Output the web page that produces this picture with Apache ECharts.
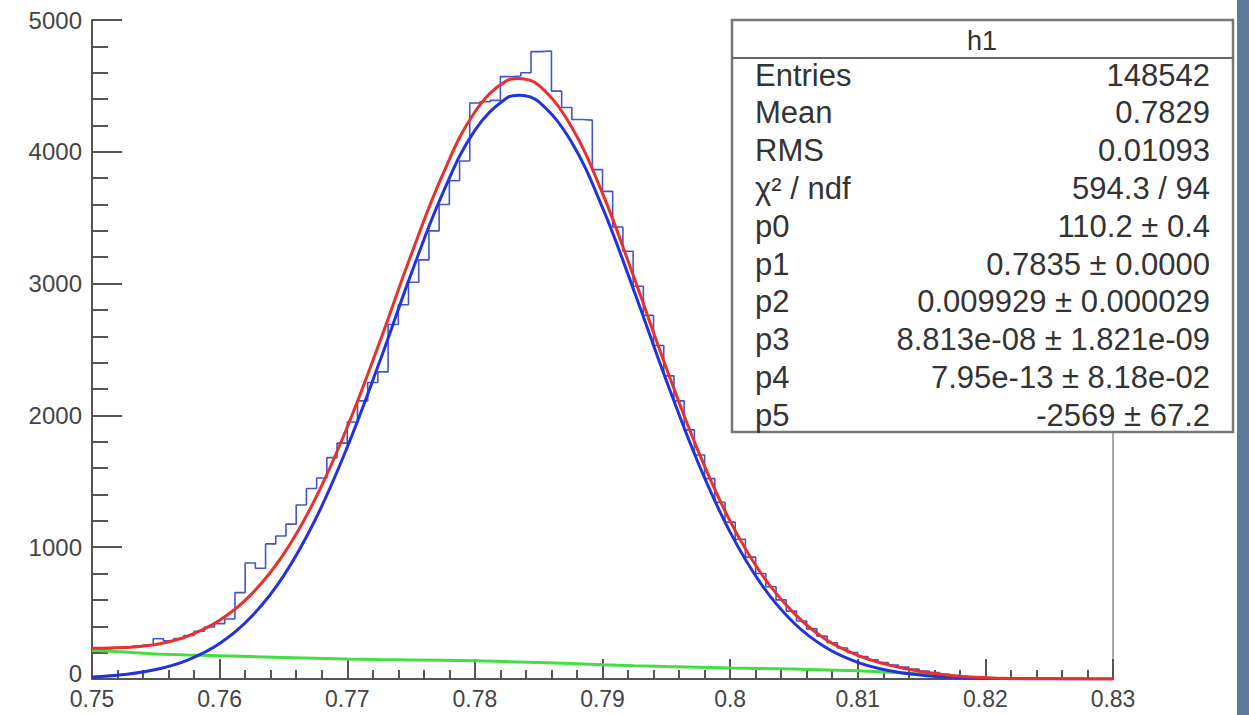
<!DOCTYPE html>
<html><head><meta charset="utf-8">
<script src="https://cdn.jsdelivr.net/npm/echarts@6/dist/echarts.min.js"></script>
<style>html,body{margin:0;padding:0;background:#fff;}#chart{width:1249px;height:715px;}</style>
</head><body><div id="chart"></div>
<script>
// ---- data ----
const histRange = [0.75, 0.83];
const histCounts = [
  228, 230, 238, 244, 250, 258, 305, 290, 306, 330,
  362, 395, 420, 455, 655, 880, 840, 1025, 1085, 1175,
  1320, 1445, 1525, 1680, 1790, 1950, 2110, 2250, 2330, 2690,
  2840, 3010, 3180, 3400, 3600, 3780, 3930, 4370, 4380, 4390,
  4570, 4575, 4600, 4760, 4765, 4460, 4336, 4245, 4240, 3865,
  3700, 3430, 3245, 2980, 2760, 2530, 2300, 2110, 1890, 1700,
  1520, 1340, 1190, 1060, 925, 800, 700, 600, 515, 440,
  380, 325, 275, 235, 200, 170, 145, 125, 105, 90,
  75, 60, 48, 36, 26, 18, 12, 8, 6, 4,
  3, 2, 2, 1, 1, 1, 0, 0, 0, 0
];
const gausX = [0.75, 0.7525, 0.755, 0.7575, 0.76, 0.7625, 0.765, 0.7675, 0.77, 0.7725, 0.775, 0.7775, 0.78, 0.7825, 0.7835, 0.785, 0.7875, 0.79, 0.7925, 0.795, 0.7975, 0.80, 0.8025, 0.805, 0.8075, 0.81, 0.8125, 0.815, 0.8175, 0.82, 0.8225, 0.825, 0.8275, 0.83];
const gausY = [15, 34, 72, 144, 269, 474, 781, 1210, 1759, 2397, 3072, 3690, 4163, 4408, 4430, 4380, 4085, 3576, 2937, 2265, 1639, 1114, 711, 425, 239, 126, 62, 29, 13, 5, 2, 1, 0, 0];
const fitX = [0.75, 0.7525, 0.755, 0.7575, 0.76, 0.7625, 0.765, 0.7675, 0.77, 0.7725, 0.775, 0.7775, 0.78, 0.7825, 0.7834, 0.785, 0.7875, 0.79, 0.7925, 0.795, 0.7975, 0.80, 0.8025, 0.805, 0.8075, 0.81, 0.8125, 0.815, 0.8175, 0.82, 0.8225, 0.825, 0.8275, 0.83];
const fitY = [233, 239, 262, 326, 445, 644, 945, 1368, 1911, 2545, 3217, 3832, 4302, 4540, 4556, 4505, 4202, 3684, 3038, 2360, 1729, 1198, 791, 500, 300, 180, 105, 55, 25, 10, 4, 2, 1, 0];
const bkgX = [0.75, 0.7525, 0.755, 0.7575, 0.76, 0.7625, 0.765, 0.7675, 0.77, 0.7725, 0.775, 0.7775, 0.78, 0.7825, 0.785, 0.7875, 0.79, 0.7925, 0.795, 0.7975, 0.80, 0.8025, 0.805, 0.8075, 0.81, 0.8125, 0.815, 0.8175];
const bkgY = [218, 205, 190, 182, 176, 170, 164, 158, 152, 148, 145, 142, 139, 132, 125, 117, 108, 101, 95, 90, 84, 80, 75, 69, 62, 52, 38, 15];
const xTicks = {min: 0.75, max: 0.83, step: 0.01};
const yTicks = {min: 0, max: 5000, step: 1000};
const statsTitle = 'h1';
const statsLabels = ['Entries', 'Mean', 'RMS', 'χ² / ndf', 'p0', 'p1', 'p2', 'p3', 'p4', 'p5'];
const statsValues = ['148542', '0.7829', '0.01093', '594.3 / 94', '110.2 ± 0.4', '0.7835 ± 0.0000', '0.009929 ± 0.000029', '8.813e-08 ± 1.821e-09', '7.95e-13 ± 8.18e-02', '-2569 ± 67.2'];

// ---- build ----
const nb = histCounts.length;
const bw = (histRange[1] - histRange[0]) / nb;
const histPts = histCounts.map((c, i) => [histRange[0] + i * bw, c]);
histPts.push([histRange[1], histCounts[nb - 1]]);
const zip = (xs, ys) => xs.map((x, i) => [x, ys[i]]);

const FONT = '"Liberation Sans", Arial, Helvetica, sans-serif';
const rowTop = 55, rowStep = 37.8;
const ZB = 100;
const statsChildren = [
  {type: 'rect', z: ZB, shape: {x: 0, y: 0, width: 501, height: 412}, style: {fill: '#fff', stroke: '#777', lineWidth: 2.5}},
  {type: 'line', z: ZB + 1, shape: {x1: 0, y1: 38, x2: 501, y2: 38}, style: {stroke: '#666', lineWidth: 2}},
  {type: 'text', z: ZB + 1, x: 250, y: 21, style: {text: statsTitle, font: '27px ' + FONT, fill: '#333', align: 'center', verticalAlign: 'middle'}}
];
statsLabels.forEach((l, k) => {
  statsChildren.push({type: 'text', z: ZB + 1, x: 23, y: rowTop + rowStep * k, style: {text: l, font: '31px ' + FONT, fill: '#333', align: 'left', verticalAlign: 'middle'}});
  statsChildren.push({type: 'text', z: ZB + 1, x: 478, y: rowTop + rowStep * k, style: {text: statsValues[k], font: '31px ' + FONT, fill: '#333', align: 'right', verticalAlign: 'middle'}});
});

const chart = echarts.init(document.getElementById('chart'), null, {renderer: 'svg'});
const axisLineStyle = {color: '#555', width: 2};
chart.setOption({
  animation: false,
  backgroundColor: '#fff',
  grid: {left: 92, right: 136, top: 20, bottom: 36},
  xAxis: [{
    type: 'value', min: xTicks.min, max: xTicks.max, interval: xTicks.step,
    axisLine: {show: true, onZero: false, lineStyle: axisLineStyle},
    axisTick: {show: true, inside: true, length: 20, lineStyle: {color: '#555', width: 2}},
    minorTick: {show: true, splitNumber: 5, length: 9, lineStyle: {color: '#555', width: 2}},
    axisLabel: {color: '#444', fontSize: 23, lineHeight: 18, fontFamily: FONT, margin: 11, showMinLabel: true, showMaxLabel: true,
                formatter: v => String(+v.toFixed(4))},
    splitLine: {show: false}
  }, {
    type: 'value', position: 'top', min: xTicks.min, max: xTicks.max,
    axisLine: {show: true, lineStyle: axisLineStyle},
    axisTick: {show: false}, axisLabel: {show: false}, splitLine: {show: false}
  }],
  yAxis: [{
    type: 'value', min: yTicks.min, max: yTicks.max, interval: yTicks.step,
    axisLine: {show: true, onZero: false, lineStyle: axisLineStyle},
    axisTick: {show: true, inside: true, length: 30, lineStyle: {color: '#555', width: 2}},
    minorTick: {show: true, splitNumber: 5, length: 16, lineStyle: {color: '#555', width: 2}},
    axisLabel: {color: '#444', fontSize: 24, lineHeight: 16, fontFamily: FONT, margin: 10,
                formatter: v => (v === 0 ? '{z|0}' : String(v)),
                rich: {z: {fontSize: 24, lineHeight: 16, fontFamily: FONT, color: '#444', padding: [0, 0, 12, 0]}}},
    splitLine: {show: false}
  }, {
    type: 'value', position: 'right', min: yTicks.min, max: yTicks.max,
    axisLine: {show: true, lineStyle: {color: '#aaa', width: 2}},
    axisTick: {show: false}, axisLabel: {show: false}, splitLine: {show: false}
  }],
  series: [
    {type: 'line', name: 'hist', data: histPts, step: 'end', symbol: 'none', z: 2,
     lineStyle: {color: '#4455c8', width: 1.6}},
    {type: 'line', name: 'bkg', data: zip(bkgX, bkgY), symbol: 'none', z: 3,
     lineStyle: {color: '#44dd44', width: 3}},
    {type: 'line', name: 'gaus', data: zip(gausX, gausY), smooth: 0.4, symbol: 'none', z: 4,
     lineStyle: {color: '#2233dd', width: 3}},
    {type: 'line', name: 'fit', data: zip(fitX, fitY), smooth: 0.4, symbol: 'none', z: 5,
     lineStyle: {color: '#e8302c', width: 3}}
  ],
  graphic: [
    {type: 'rect', z: ZB, x: 1237, y: 0, shape: {width: 12, height: 715}, style: {fill: '#5d7a9a'}},
    {type: 'group', z: ZB, x: 732, y: 20, children: statsChildren}
  ]
});
</script>
</body></html>
